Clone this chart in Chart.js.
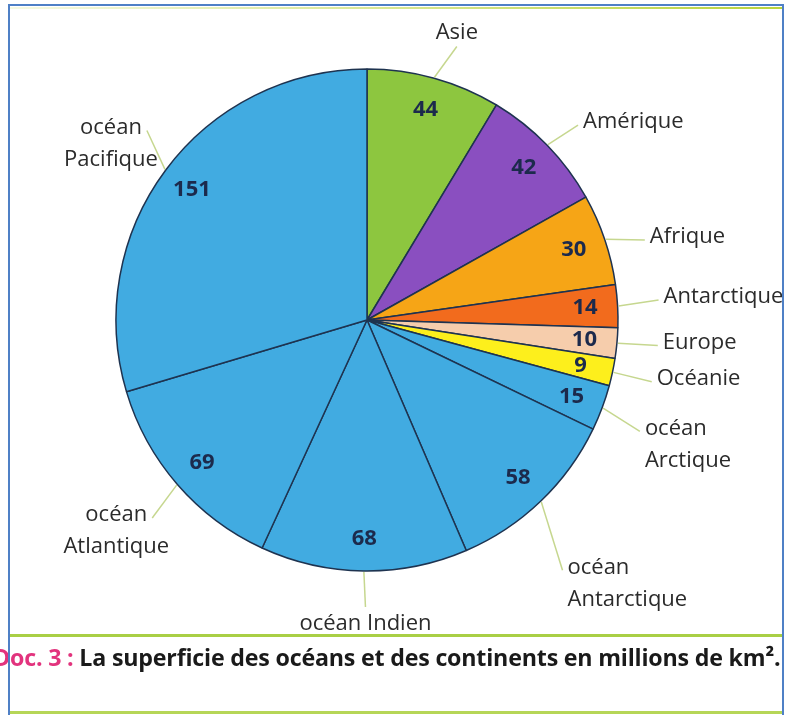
<!DOCTYPE html>
<html lang="fr">
<head>
    <meta charset="UTF-8">
    <title>Superficie des océans et des continents</title>
    <script src="https://cdn.jsdelivr.net/npm/chart.js"></script>
    <style>
        body {
            margin: 0;
            background-color: #fff;
        }
        #page {
            position: relative;
            width: 789px;
            height: 715px;
            overflow: hidden;
            background: #fff;
        }
        #chartContainer {
            position: absolute;
            left: 0;
            top: 0;
            width: 789px;
            height: 715px;
        }
        .rule {
            position: absolute;
        }
        #caption {
            position: absolute;
            left: -7px;
            top: 643px;
            font-family: "Open Sans", sans-serif;
            font-weight: bold;
            font-size: 21px;
            line-height: 28px;
            letter-spacing: -0.2px;
            color: #1a1a1a;
            white-space: nowrap;
        }
        #caption .doc {
            color: #e2337d;
        }
    </style>
</head>
<body>
    <div id="page">
        <div id="chartContainer">
            <canvas id="surfaceChart"></canvas>
        </div>
        <div id="caption"><span class="doc">Doc. 3 :</span> La superficie des océans et des continents en millions de km².</div>

        <!-- frame lines of the scanned page -->
        <div class="rule" style="left:10px; top:7px; width:772px; height:2px; background:linear-gradient(to right, rgba(190,215,70,0.15), #b9d43c);"></div>
        <div class="rule" style="left:10px; top:634px; width:772px; height:3px; background:#a9cf45;"></div>
        <div class="rule" style="left:10px; top:711px; width:772px; height:3px; background:#b6d657;"></div>
        <div class="rule" style="left:8px; top:4px; width:776px; height:2px; background:#4f80c6;"></div>
        <div class="rule" style="left:8px; top:4px; width:2px; height:711px; background:#4f80c6;"></div>
        <div class="rule" style="left:782px; top:4px; width:2px; height:711px; background:#4f80c6;"></div>
    </div>

    <script>
        // surfaces in millions of km², clockwise from the top
        const categories = [
            'Asie', 'Amérique', 'Afrique', 'Antarctique', 'Europe', 'Océanie',
            ['océan', 'Arctique'], ['océan', 'Antarctique'], 'océan Indien',
            ['océan', 'Atlantique'], ['océan', 'Pacifique']
        ];
        const areas = [44, 42, 30, 14, 10, 9, 15, 58, 68, 69, 151];

        const ocean = '#41abe1';
        const sliceColors = [
            '#8dc63f', '#8a4fc0', '#f6a516', '#f26b1d', '#f6cdac', '#fdef1c',
            ocean, ocean, ocean, ocean, ocean
        ];

        // small shifts [dx, dy] of each outer label so it sits like the printed one
        const labelNudge = [
            [13, 3], [5, 5], [6, 12], [5, -4], [5, -1], [4, 2],
            [4, 11], [-3, 43], [2, 0], [2, 10], [10, -18]
        ];

        const sliceLabels = {
            id: 'sliceLabels',
            afterDatasetsDraw(chart) {
                const ctx = chart.ctx;
                const meta = chart.getDatasetMeta(0);
                meta.data.forEach((arc, i) => {
                    const { x, y, startAngle, endAngle, outerRadius } =
                        arc.getProps(['x', 'y', 'startAngle', 'endAngle', 'outerRadius'], true);
                    const mid = (startAngle + endAngle) / 2;
                    const cos = Math.cos(mid);
                    const sin = Math.sin(mid);

                    ctx.save();

                    // value inside the slice
                    const vr = outerRadius * 0.87;
                    ctx.font = 'bold 22px "Open Sans"';
                    ctx.fillStyle = '#1c2a4c';
                    ctx.textAlign = 'center';
                    ctx.textBaseline = 'middle';
                    ctx.fillText(String(areas[i]), x + vr * cos, y + vr * sin);

                    // leader line
                    const nudge = labelNudge[i];
                    const sx = x + (outerRadius + 1) * cos;
                    const sy = y + (outerRadius + 1) * sin;
                    const ex = x + (outerRadius + 36) * cos + nudge[0];
                    const ey = y + (outerRadius + 36) * sin + nudge[1];
                    ctx.strokeStyle = '#c6d78f';
                    ctx.lineWidth = 1.5;
                    ctx.beginPath();
                    ctx.moveTo(sx, sy);
                    ctx.lineTo(ex, ey);
                    ctx.stroke();

                    // name
                    const lines = [].concat(categories[i]);
                    const lh = 32;
                    let deg = (mid * 180 / Math.PI + 90) % 360;
                    if (deg < 0) deg += 360;
                    ctx.font = '22px "Open Sans"';
                    ctx.fillStyle = '#2b2b2b';
                    let tx, ty;
                    if (deg < 25 || deg > 335) {
                        ctx.textAlign = 'center';
                        tx = ex;
                        ty = ey - 14 - (lines.length - 1) * lh;
                    } else if (deg > 155 && deg < 205) {
                        ctx.textAlign = 'center';
                        tx = ex;
                        ty = ey + 17;
                    } else if (deg <= 155) {
                        ctx.textAlign = 'left';
                        tx = ex + 5;
                        ty = ey - 3;
                    } else {
                        ctx.textAlign = 'center';
                        tx = ex - 5 - ctx.measureText(lines[0]).width / 2;
                        ty = ey - 3;
                    }
                    lines.forEach((line, k) => ctx.fillText(line, tx, ty + k * lh));

                    ctx.restore();
                });
            }
        };

        // size the caption so it runs to the right edge like the printed one
        const caption = document.getElementById('caption');
        const captionWidth = caption.getBoundingClientRect().width;
        caption.style.fontSize = (21 * 786 / captionWidth) + 'px';

        const ctx = document.getElementById('surfaceChart').getContext('2d');
        new Chart(ctx, {
            type: 'pie',
            data: {
                labels: categories,
                datasets: [{
                    data: areas,
                    backgroundColor: sliceColors,
                    borderColor: '#1e3350',
                    borderWidth: 1.5
                }]
            },
            options: {
                responsive: true,
                maintainAspectRatio: false,
                animation: false,
                radius: 251,
                layout: {
                    padding: { left: 0, right: 55, top: 0, bottom: 75 }
                },
                plugins: {
                    legend: { display: false },
                    title: { display: false },
                    tooltip: { enabled: false }
                }
            },
            plugins: [sliceLabels]
        });
    </script>
</body>
</html>
